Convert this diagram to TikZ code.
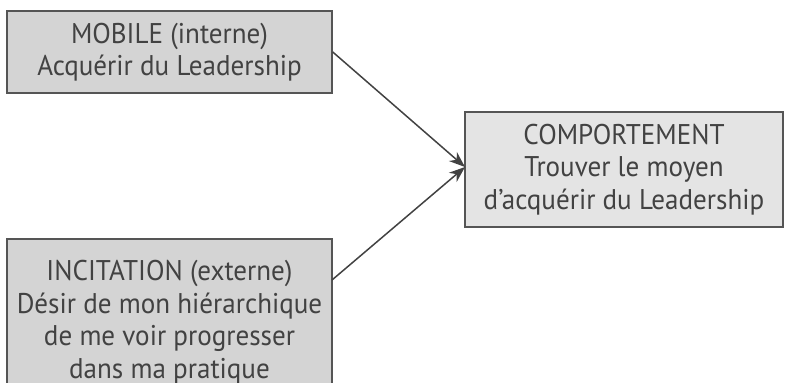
\documentclass[tikz,border=0pt]{standalone}
\usepackage{fontspec}
\setmainfont[FakeStretch=0.95]{PT Sans}
\usetikzlibrary{arrows.meta}
\definecolor{boxdark}{HTML}{D4D4D4}
\definecolor{boxlight}{HTML}{E4E4E4}
\definecolor{edge}{HTML}{555555}
\definecolor{ink}{HTML}{424242}
\tikzset{
  box/.style={draw=edge, line width=1.5pt, rectangle, align=center, inner sep=0pt,
    text=ink, font=\fontsize{28.5}{32.5}\selectfont},
  conn/.style={draw=ink, line width=1.5pt, -{Stealth[length=16pt,width=12pt,inset=5pt]}}
}
\begin{document}
\begin{tikzpicture}[x=1pt,y=-1pt]
\useasboundingbox (0,0) rectangle (785,383);
\node[box, fill=boxdark, minimum width=325pt, minimum height=82pt] (mob) at (169.5,52)
  {MOBILE (interne)\\Acquérir du Leadership};
\node[box, fill=boxlight, minimum width=318pt, minimum height=115pt] (comp) at (624,169.5)
  {COMPORTEMENT\\Trouver le moyen\\d’acquérir du Leadership};
\node[box, fill=boxdark, minimum width=325pt, minimum height=166pt] (inc) at (169.5,322)
  {INCITATION (externe)\\Désir de mon hiérarchique\\de me voir progresser\\dans ma pratique};
\coordinate (incout) at (332,280);
\coordinate (compin) at (465,167);
\draw[conn] (mob.east) -- (compin);
\draw[conn] (incout) -- (compin);
\end{tikzpicture}
\end{document}
